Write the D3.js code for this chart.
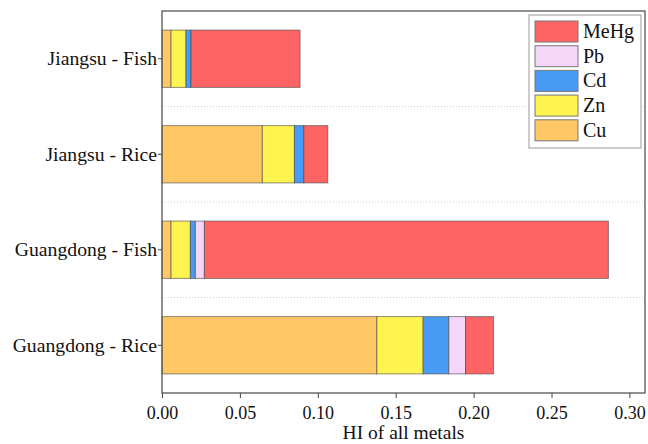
<!DOCTYPE html>
<html>
<head>
<meta charset="utf-8">
<script src="https://cdn.jsdelivr.net/npm/d3@7"></script>
</head>
<body style="margin:0; background:#fff">
<div class="graph"></div>
<script>
// categories, top to bottom
var groups = ["Jiangsu - Fish", "Jiangsu - Rice", "Guangdong - Fish", "Guangdong - Rice"];
// stack order, left to right
var metals = ["Cu", "Zn", "Cd", "Pb", "MeHg"];
var legendOrder = ["MeHg", "Pb", "Cd", "Zn", "Cu"];
var colors = ["#FFC864", "#FFF350", "#4A9BF5", "#F5D5F8", "#FF6464"];

// HI contribution of each metal, per group
var cu   = [0.0058, 0.0644, 0.0058, 0.1379];
var zn   = [0.0096, 0.0206, 0.0124, 0.0297];
var cd   = [0.0032, 0.0060, 0.0032, 0.0165];
var pb   = [0.0000, 0.0000, 0.0058, 0.0107];
var mehg = [0.0700, 0.0154, 0.2593, 0.0180];

var xTicks = [0, 0.05, 0.10, 0.15, 0.20, 0.25, 0.30];

var FONT = "'Liberation Serif', 'Times New Roman', serif";

var margin = {top: 11, right: 3, bottom: 51, left: 162},
    width = 648 - margin.left - margin.right,
    height = 444 - margin.top - margin.bottom;

var svg = d3.select(".graph").append("svg")
    .attr("width", 648)
    .attr("height", 444)
    .append("g")
    .attr("transform", "translate(" + margin.left + "," + margin.top + ")");

var rows = groups.map(function(g, i) {
    return {group: g, Cu: cu[i], Zn: zn[i], Cd: cd[i], Pb: pb[i], MeHg: mehg[i]};
});

var xScale = d3.scaleLinear().domain([0, 0.31]).range([0, width]);
var yScale = d3.scaleBand().domain(groups).range([0, height]).paddingInner(0.4).paddingOuter(0.2);
var zScale = d3.scaleOrdinal().domain(metals).range(colors);

var series = d3.stack().keys(metals)(rows);

// dotted separators between bands
var step = yScale.step();
svg.selectAll(".sep")
    .data(groups.slice(1))
    .enter().append("line")
    .attr("x1", 0).attr("x2", width)
    .attr("y1", function(d) { return yScale(d) - step * yScale.paddingInner() / 2; })
    .attr("y2", function(d) { return yScale(d) - step * yScale.paddingInner() / 2; })
    .attr("stroke", "#ccc")
    .attr("stroke-dasharray", "1,2")
    .attr("stroke-width", 1);

// bars
svg.selectAll(".layer")
    .data(series)
    .enter().append("g")
    .attr("class", "layer")
    .attr("fill", function(d) { return zScale(d.key); })
    .selectAll("rect")
    .data(function(d) { return d.filter(function(e) { return e[1] - e[0] > 0; }); })
    .enter().append("rect")
    .attr("x", function(d) { return xScale(d[0]); })
    .attr("y", function(d) { return yScale(d.data.group); })
    .attr("width", function(d) { return xScale(d[1]) - xScale(d[0]); })
    .attr("height", yScale.bandwidth())
    .attr("stroke", "#444")
    .attr("stroke-opacity", 0.6)
    .attr("stroke-width", 1);

// axes
var xAxis = d3.axisBottom(xScale).tickValues(xTicks).tickFormat(d3.format(".2f")).tickSizeOuter(0).tickSize(5);
var yAxis = d3.axisLeft(yScale).tickSizeOuter(0).tickSize(4);

var gx = svg.append("g")
    .attr("transform", "translate(0," + height + ")")
    .call(xAxis)
    .attr("font-family", FONT).attr("font-size", 18);
gx.select(".domain").remove();
gx.selectAll("line").attr("stroke", "#444");
gx.selectAll("text")
    .style("font-family", FONT).style("font-size", "18px")
    .attr("fill", "#111").attr("dy", "1.0em");

var gy = svg.append("g").call(yAxis)
    .attr("font-family", FONT).attr("font-size", 20);
gy.select(".domain").remove();
gy.selectAll("line").attr("stroke", "#444");
gy.selectAll("text")
    .style("font-family", FONT).style("font-size", "19.7px")
    .attr("fill", "#111").attr("x", -5);

// frame
svg.append("rect")
    .attr("x", 0).attr("y", 0)
    .attr("width", width).attr("height", height)
    .attr("fill", "none")
    .attr("stroke", "#555")
    .attr("stroke-width", 1.3);

// x axis title
svg.append("text")
    .attr("text-anchor", "middle")
    .attr("x", width / 2)
    .attr("y", height + 46)
    .attr("fill", "#111")
    .style("font-family", FONT)
    .style("font-size", "19.5px")
    .text("HI of all metals");

// legend
var legend = svg.append("g").attr("transform", "translate(" + (width - 116) + ",4)");
legend.append("rect")
    .attr("width", 112).attr("height", 133)
    .attr("fill", "#fff")
    .attr("stroke", "#999");
var item = legend.selectAll(".item")
    .data(legendOrder)
    .enter().append("g")
    .attr("transform", function(d, i) { return "translate(6," + (6 + i * 24.7) + ")"; });
item.append("rect")
    .attr("width", 43).attr("height", 21)
    .attr("fill", function(d) { return zScale(d); })
    .attr("stroke", "#777");
item.append("text")
    .attr("x", 48).attr("y", 17)
    .attr("fill", "#111")
    .style("font-family", FONT)
    .style("font-size", "20px")
    .text(function(d) { return d; });
</script>
</body>
</html>
